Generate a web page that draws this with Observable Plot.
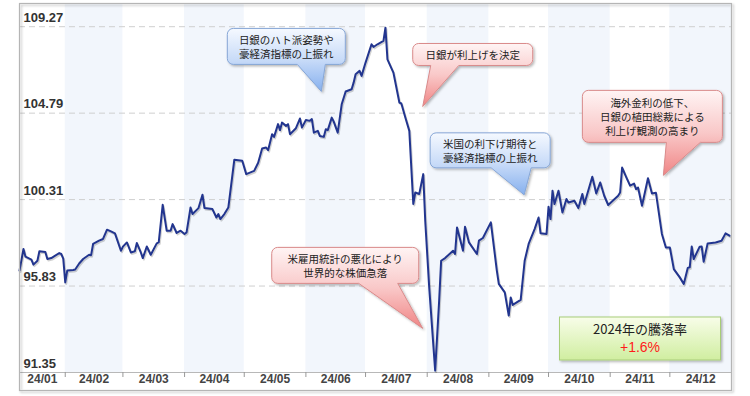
<!DOCTYPE html>
<html><head><meta charset="utf-8">
<script src="https://cdn.jsdelivr.net/npm/d3@7"></script>
<script src="https://cdn.jsdelivr.net/npm/@observablehq/plot@0.6"></script>
<style>
html,body{margin:0;padding:0;background:#fff;}
#chart svg{display:block;}
</style></head><body><div id="chart"></div>
<script>
// ---------- data ----------
const dates = [
"2024-01-09","2024-01-11","2024-01-12","2024-01-15","2024-01-16","2024-01-18","2024-01-19","2024-01-22","2024-01-23","2024-01-25",
"2024-01-29","2024-01-30","2024-01-31","2024-02-01","2024-02-02","2024-02-05","2024-02-06","2024-02-08","2024-02-10","2024-02-13",
"2024-02-14","2024-02-15","2024-02-18","2024-02-20","2024-02-22","2024-02-24","2024-02-26","2024-02-29","2024-03-01","2024-03-03",
"2024-03-05","2024-03-07","2024-03-08","2024-03-10","2024-03-11","2024-03-13","2024-03-15","2024-03-18","2024-03-19","2024-03-21",
"2024-03-23","2024-03-25","2024-03-26","2024-03-28","2024-03-30","2024-04-01","2024-04-02","2024-04-04","2024-04-05","2024-04-08",
"2024-04-10","2024-04-11","2024-04-15","2024-04-17","2024-04-18","2024-04-19","2024-04-21","2024-04-23","2024-04-26","2024-04-30",
"2024-05-02","2024-05-06","2024-05-08","2024-05-10","2024-05-12","2024-05-13","2024-05-15","2024-05-16","2024-05-18","2024-05-19",
"2024-05-20","2024-05-22","2024-05-23","2024-05-24","2024-05-27","2024-05-29","2024-05-30","2024-06-01","2024-06-03","2024-06-04",
"2024-06-05","2024-06-07","2024-06-08","2024-06-10","2024-06-11","2024-06-12","2024-06-14","2024-06-15","2024-06-17","2024-06-19",
"2024-06-21","2024-06-24","2024-06-25","2024-06-26","2024-06-28","2024-06-29","2024-07-01","2024-07-04","2024-07-05","2024-07-07",
"2024-07-10","2024-07-11","2024-07-12","2024-07-15","2024-07-18","2024-07-19","2024-07-21","2024-07-23","2024-07-25","2024-07-26",
"2024-07-28","2024-07-30","2024-07-31","2024-08-02","2024-08-05","2024-08-07","2024-08-08","2024-08-10","2024-08-14","2024-08-15",
"2024-08-16","2024-08-19","2024-08-20","2024-08-22","2024-08-26","2024-08-27","2024-08-29","2024-09-02","2024-09-05","2024-09-06",
"2024-09-09","2024-09-11","2024-09-12","2024-09-13","2024-09-17","2024-09-19","2024-09-21","2024-09-24","2024-09-26","2024-09-27",
"2024-09-30","2024-10-01","2024-10-02","2024-10-03","2024-10-04","2024-10-06","2024-10-08","2024-10-10","2024-10-11","2024-10-14",
"2024-10-16","2024-10-18","2024-10-19","2024-10-23","2024-10-25","2024-10-27","2024-10-29","2024-10-31","2024-11-05","2024-11-06",
"2024-11-07","2024-11-09","2024-11-11","2024-11-13","2024-11-14","2024-11-15","2024-11-17","2024-11-20","2024-11-22","2024-11-24",
"2024-11-27","2024-11-29","2024-12-01","2024-12-03","2024-12-06","2024-12-08","2024-12-10","2024-12-11","2024-12-12","2024-12-13",
"2024-12-16","2024-12-17","2024-12-18","2024-12-20","2024-12-24","2024-12-27","2024-12-29","2024-12-31"
];
const values = [
96.63,97.75,97.35,97.20,96.94,97.14,97.63,97.59,97.23,97.28,
97.54,97.49,97.25,96.02,96.63,96.66,96.69,97.00,97.23,97.45,
97.43,98.01,98.18,98.27,98.75,98.66,98.56,97.66,97.87,98.09,
97.57,97.63,98.06,97.57,97.28,97.88,97.45,98.04,98.09,100.04,
98.70,98.70,99.04,98.58,98.70,98.53,98.61,99.90,99.56,99.87,
100.56,99.87,99.82,99.38,99.56,99.30,99.56,99.90,102.37,102.32,
101.63,101.80,102.22,102.96,103.01,102.87,103.70,103.56,104.22,103.91,
104.30,104.13,104.22,103.70,104.01,104.51,104.04,104.43,104.39,104.48,
103.78,103.87,103.61,103.56,103.96,103.91,104.56,104.35,103.78,105.25,
105.91,106.03,106.37,106.81,106.98,106.72,107.41,108.36,108.22,108.36,
108.53,109.22,107.58,106.89,105.34,105.29,104.56,103.87,100.08,100.68,
100.60,101.63,99.21,95.76,91.45,95.07,97.14,97.28,97.66,97.49,
98.87,97.66,98.90,98.09,97.49,98.18,98.32,99.13,96.63,95.94,
95.50,94.30,95.24,94.85,95.11,97.14,98.01,98.78,99.38,98.56,
98.53,99.94,99.30,100.77,100.08,100.77,99.64,100.34,100.16,100.25,
99.87,100.60,100.08,101.49,100.63,101.20,100.51,100.03,100.51,100.68,
101.97,101.49,101.03,101.14,100.85,100.94,99.99,101.42,100.63,100.66,
98.53,97.83,97.83,96.71,96.28,95.94,96.77,96.80,97.88,97.23,
97.87,97.88,97.09,98.04,98.09,98.18,98.56,98.44
];
const monthLabels = ["24/01","24/02","24/03","24/04","24/05","24/06","24/07","24/08","24/09","24/10","24/11","24/12"];
const monthStarts = ["2024-01-01","2024-02-01","2024-03-01","2024-04-01","2024-05-01","2024-06-01","2024-07-01","2024-08-01","2024-09-01","2024-10-01","2024-11-01","2024-12-01","2025-01-01"];
const yTicks = [91.35, 95.83, 100.31, 104.79, 109.27];
const yTop = 110.42;
const xDomain = ["2024-01-09", "2025-01-01"];

const calloutLines = [
  ["日銀のハト派姿勢や", "豪経済指標の上振れ"],
  ["日銀が利上げを決定"],
  ["米国の利下げ期待と", "豪経済指標の上振れ"],
  ["米雇用統計の悪化により", "世界的な株価急落"],
  ["海外金利の低下、", "日銀の植田総裁による", "利上げ観測の高まり"]
];
const calloutTipDates = ["2024-06-09", "2024-07-30", "2024-09-19", "2024-07-30", "2024-11-28"];
const calloutTipValues = [105.89, 105.11, 100.53, 93.61, 101.54];
const calloutTones = ["blue", "red", "blue", "red", "red"];

const summaryTitle = "2024年の騰落率";
const summaryValue = "+1.6%";

// ---------- layout / style (pixel offsets from each tip) ----------
const calloutGeom = [
  {l:-94, r:24,  t:-63, b:-27, bl:-24, br:4},
  {l:-10, r:110, t:-63, b:-41, bl:8,   br:36},
  {l:-94, r:26,  t:-62, b:-27, bl:-33, br:7},
  {l:-151,r:-4,  t:-81, b:-45, bl:-64, br:-25},
  {l:-81, r:59,  t:-85, b:-33, bl:3,   br:37}
];

const series = dates.map((d, i) => ({date: new Date(d), value: values[i]}));
const ms = monthStarts.map(d => new Date(d));
const d0 = new Date(xDomain[0]), d1 = new Date(xDomain[1]);
const months = monthLabels.map((label, i) => {
  const s = ms[i] < d0 ? d0 : ms[i];
  return {label, start: ms[i], end: ms[i + 1], mid: new Date((+s + +ms[i + 1]) / 2), shaded: i % 2 === 1};
});
const boundaries = ms.slice(1, 12);

const axisFont = "'Liberation Sans', Arial, sans-serif";
const jpFont = "'Noto Sans CJK JP', 'Noto Sans', sans-serif";

const plot = Plot.plot({
  width: 750,
  height: 396,
  marginLeft: 19,
  marginRight: 19,
  marginTop: 4,
  marginBottom: 24,
  style: {fontFamily: axisFont, background: "#fff", overflow: "visible"},
  x: {type: "utc", domain: [d0, d1], axis: null},
  y: {domain: [yTicks[0], yTop], axis: null},
  marks: [
    Plot.rect(months.filter(m => m.shaded), {x1: "start", x2: "end", fill: "#f2f6fc"}),
    Plot.ruleY(yTicks.slice(1), {stroke: "#cfcfcf", strokeDasharray: "6,4", strokeWidth: 1}),
    Plot.ruleY([yTicks[0]], {stroke: "#b8b8b8", strokeWidth: 1}),
    Plot.axisX({ticks: boundaries, tickSize: 5, tickFormat: () => "", stroke: "#999", strokeWidth: 1}),
    Plot.text(months, {x: "mid", frameAnchor: "bottom", dy: 10, text: "label",
      fill: "#444", fontWeight: "bold", fontSize: 12, fontFamily: axisFont}),
    Plot.text(yTicks, {y: d => d, frameAnchor: "left", dx: 4, dy: -9, textAnchor: "start",
      text: d => d.toFixed(2), fill: "#333", fontWeight: "bold", fontSize: 13, fontFamily: axisFont}),
    Plot.line(series, {x: "date", y: "value", stroke: "#000", strokeOpacity: 0.18, strokeWidth: 2, dx: 1, dy: 1.5}),
    Plot.line(series, {x: "date", y: "value", stroke: "#22358f", strokeWidth: 2, strokeLinejoin: "round"})
  ]
});

document.getElementById("chart").appendChild(plot);

// ---------- annotations drawn through the plot's scales ----------
const xs = plot.scale("x"), ys = plot.scale("y");
const svg = d3.select(plot);
const defs = svg.append("defs");
const f = defs.append("filter").attr("id", "shadow").attr("x", "-20%").attr("y", "-20%").attr("width", "150%").attr("height", "150%");
f.append("feDropShadow").attr("dx", 1.5).attr("dy", 1.5).attr("stdDeviation", 1.2).attr("flood-color", "#000").attr("flood-opacity", 0.28);

function grad(id, stops) {
  const g = defs.append("linearGradient").attr("id", id).attr("x1", 0).attr("y1", 0).attr("x2", 0).attr("y2", 1);
  stops.forEach(([o, c]) => g.append("stop").attr("offset", o).attr("stop-color", c));
}
grad("g-blue", [[0, "#f5f9ff"], [0.5, "#c8dbf8"], [1, "#86b0ee"]]);
grad("g-red", [[0, "#fff4f4"], [0.5, "#f9c8c8"], [1, "#f08585"]]);
grad("g-green", [[0, "#f8fde9"], [1, "#d0eea0"]]);
const tones = {blue: {fill: "url(#g-blue)", stroke: "#86a6d6"}, red: {fill: "url(#g-red)", stroke: "#d98a8a"}};

// outer frame
const xr = xs.range, yr = ys.range;
svg.append("rect")
  .attr("x", xr[0] + 0.5).attr("y", yr[1] - 0.5)
  .attr("width", xr[1] - xr[0]).attr("height", 391 - yr[1])
  .attr("fill", "none").attr("stroke", "#b5b5b5").attr("stroke-width", 1.2)
  .attr("filter", "url(#shadow)");

function calloutPath(L, T, R, B, bl, br, tx, ty, r) {
  return `M${L + r},${T}H${R - r}A${r},${r} 0 0 1 ${R},${T + r}V${B - r}A${r},${r} 0 0 1 ${R - r},${B}` +
    `H${br}L${tx},${ty}L${bl},${B}H${L + r}A${r},${r} 0 0 1 ${L},${B - r}V${T + r}A${r},${r} 0 0 1 ${L + r},${T}Z`;
}

calloutLines.forEach((lines, i) => {
  const tx = xs.apply(new Date(calloutTipDates[i]));
  const ty = ys.apply(calloutTipValues[i]);
  const g = calloutGeom[i];
  const L = tx + g.l, R = tx + g.r, T = ty + g.t, B = ty + g.b;
  const tone = tones[calloutTones[i]];
  svg.append("path")
    .attr("d", calloutPath(L, T, R, B, tx + g.bl, tx + g.br, tx, ty, 6))
    .attr("fill", tone.fill).attr("stroke", tone.stroke).attr("stroke-width", 1)
    .attr("filter", "url(#shadow)");
  const lh = i === 3 ? 13.5 : 14;
  const cy = (T + B) / 2;
  lines.forEach((s, j) => {
    svg.append("text")
      .attr("x", (L + R) / 2).attr("y", cy + (j - (lines.length - 1) / 2) * lh)
      .attr("text-anchor", "middle").attr("dominant-baseline", "central")
      .attr("font-family", jpFont).attr("font-size", 10.5).attr("fill", "#222")
      .text(s);
  });
});

// summary box at lower right of the frame
{
  const R = xr[1] - 10.5, B = yr[0] - 12, W = 161, H = 43;
  const L = R - W, T = B - H;
  svg.append("rect").attr("x", L).attr("y", T).attr("width", W).attr("height", H)
    .attr("fill", "url(#g-green)").attr("stroke", "#a8cd78").attr("stroke-width", 1)
    .attr("filter", "url(#shadow)");
  svg.append("text").attr("x", (L + R) / 2).attr("y", T + 11.5)
    .attr("text-anchor", "middle").attr("dominant-baseline", "central")
    .attr("font-family", jpFont).attr("font-size", 13).attr("fill", "#222").text(summaryTitle);
  svg.append("text").attr("x", (L + R) / 2).attr("y", T + 29.5)
    .attr("text-anchor", "middle").attr("dominant-baseline", "central")
    .attr("font-family", axisFont).attr("font-size", 14).attr("fill", "#ff1a1a").text(summaryValue);
}
</script>
</body></html>
